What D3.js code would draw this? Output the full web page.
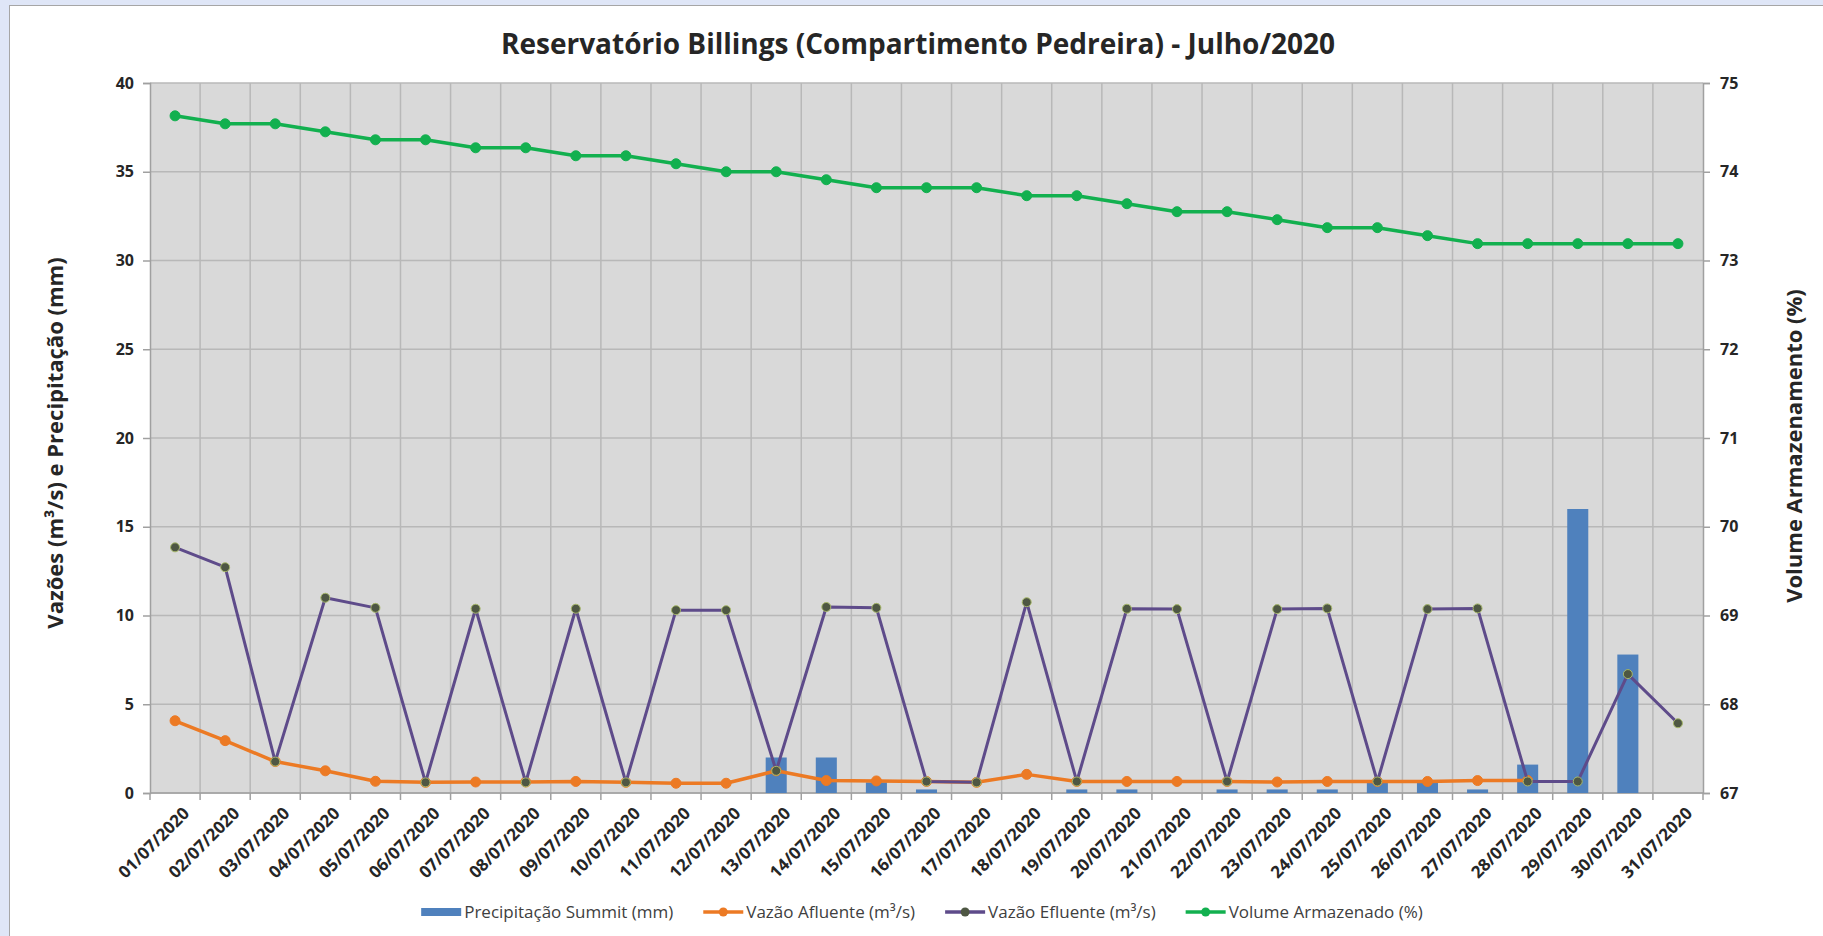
<!DOCTYPE html>
<html>
<head>
<meta charset="utf-8">
<script src="https://cdn.jsdelivr.net/npm/d3@7"></script>
<style>
  body { margin: 0; background: #dfe6f7; overflow: hidden; }
  svg text { font-family: "Open Sans", sans-serif; }
</style>
</head>
<body>
<div id="chart"></div>
<script>
var dias = ['01/07/2020','02/07/2020','03/07/2020','04/07/2020','05/07/2020','06/07/2020','07/07/2020',
  '08/07/2020','09/07/2020','10/07/2020','11/07/2020','12/07/2020','13/07/2020','14/07/2020','15/07/2020',
  '16/07/2020','17/07/2020','18/07/2020','19/07/2020','20/07/2020','21/07/2020','22/07/2020','23/07/2020',
  '24/07/2020','25/07/2020','26/07/2020','27/07/2020','28/07/2020','29/07/2020','30/07/2020','31/07/2020'];

var precipitacao = [0,0,0,0,0,0,0,0,0,0,0,0,2.0,2.0,0.6,0.2,0,0,0.2,0.2,0,0.2,0.2,0.2,0.6,0.6,0.2,1.6,16.0,7.8,0];
var afluente = [4.07,2.95,1.77,1.25,0.66,0.6,0.62,0.62,0.65,0.6,0.55,0.55,1.25,0.7,0.68,0.65,0.6,1.05,0.65,
  0.65,0.65,0.65,0.62,0.65,0.65,0.65,0.7,0.7,null,null,null];
var efluente = [13.84,12.72,1.77,11.0,10.43,0.6,10.38,0.6,10.38,0.6,10.3,10.3,1.25,10.48,10.43,0.65,0.6,10.75,
  0.65,10.38,10.36,0.65,10.36,10.4,0.65,10.36,10.4,0.65,0.65,6.7,3.93];
var volume = [74.63,74.54,74.54,74.45,74.36,74.36,74.27,74.27,74.18,74.18,74.09,74.0,74.0,73.91,73.82,73.82,
  73.82,73.73,73.73,73.64,73.55,73.55,73.46,73.37,73.37,73.28,73.19,73.19,73.19,73.19,73.19];

var ticksEsq = [0,5,10,15,20,25,30,35,40];
var ticksDir = [67,68,69,70,71,72,73,74,75];

var titulo = 'Reservatório Billings (Compartimento Pedreira) - Julho/2020';
var tituloEsq = 'Vazões (m³/s) e Precipitação (mm)';
var tituloDir = 'Volume Armazenamento (%)';
var nomes = ['Precipitação Summit (mm)','Vazão Afluente (m³/s)','Vazão Efluente (m³/s)','Volume Armazenado (%)'];

var W = 1823, H = 936;
var m = {l: 150, r: 1703, t: 83, b: 793};
var cor = {barra: '#4f81bd', afl: '#ec7a24', efl: '#5e4b8a', vol: '#12b04f', grade: '#b8b8b8', texto: '#262626'};

var svg = d3.select('#chart').append('svg').attr('width', W).attr('height', H);

// moldura branca
svg.append('rect').attr('x', 9.5).attr('y', 5.5).attr('width', W).attr('height', H)
  .attr('fill', '#fff').attr('stroke', '#a6a6a6');

var x = d3.scaleBand().domain(dias).range([m.l, m.r]);
var y = d3.scaleLinear().domain([0, 40]).range([m.b, m.t]);
var y2 = d3.scaleLinear().domain([67, 75]).range([m.b, m.t]);
var cx = function(d){ return x(d) + x.bandwidth()/2; };

// area do grafico
svg.append('rect').attr('x', m.l).attr('y', m.t).attr('width', m.r - m.l).attr('height', m.b - m.t)
  .attr('fill', '#d9d9d9');

var grade = svg.append('g').attr('stroke', cor.grade).attr('stroke-width', 1.5);
grade.selectAll('.h').data(ticksEsq).enter().append('line')
  .attr('x1', m.l).attr('x2', m.r).attr('y1', function(d){ return y(d); }).attr('y2', function(d){ return y(d); });
grade.selectAll('.v').data(dias.slice(1)).enter().append('line')
  .attr('x1', function(d){ return x(d); }).attr('x2', function(d){ return x(d); })
  .attr('y1', m.t).attr('y2', m.b);

// eixo esquerdo
var eixoEsq = svg.append('g').attr('transform', 'translate(' + m.l + ',0)')
  .call(d3.axisLeft(y).tickValues(ticksEsq).tickSize(7).tickPadding(9));
// eixo direito
var eixoDir = svg.append('g').attr('transform', 'translate(' + m.r + ',0)')
  .call(d3.axisRight(y2).tickValues(ticksDir).tickSize(7).tickPadding(10));
[eixoEsq, eixoDir].forEach(function(e){
  e.selectAll('path,line').attr('stroke', '#a0a0a0').attr('stroke-width', 1.5);
  e.selectAll('text').attr('fill', cor.texto).style('font-size', '16px').style('font-weight', 'bold');
});

// eixo x
svg.append('line').attr('x1', m.l).attr('x2', m.r).attr('y1', m.b).attr('y2', m.b)
  .attr('stroke', '#a0a0a0').attr('stroke-width', 1.5);
svg.selectAll('.tx').data(dias.concat([null])).enter().append('line')
  .attr('x1', function(d){ return d ? x(d) : m.r; }).attr('x2', function(d){ return d ? x(d) : m.r; })
  .attr('y1', m.b).attr('y2', m.b + 7).attr('stroke', '#a0a0a0').attr('stroke-width', 1.5);
svg.selectAll('.lx').data(dias).enter().append('text')
  .attr('transform', function(d){ return 'translate(' + (cx(d) + 7) + ',' + (m.b + 13) + ') rotate(-45)'; })
  .attr('text-anchor', 'end').attr('dy', '0.7em')
  .attr('fill', cor.texto).style('font-size', '17px').style('font-weight', 'bold')
  .text(function(d){ return d; });

// barras
var bw = x.bandwidth() * 0.42;
svg.selectAll('.bar').data(dias).enter().append('rect')
  .attr('x', function(d){ return cx(d) - bw/2; })
  .attr('y', function(d, i){ return y(precipitacao[i]); })
  .attr('width', bw)
  .attr('height', function(d, i){ return m.b - y(precipitacao[i]); })
  .attr('fill', cor.barra);

function serie(vals, escala, c, marcaFill, marcaStroke, r, lw){
  var pts = dias.map(function(d, i){ return [cx(d), vals[i]]; });
  var line = d3.line().defined(function(p){ return p[1] != null; })
    .x(function(p){ return p[0]; }).y(function(p){ return escala(p[1]); });
  svg.append('path').datum(pts).attr('d', line).attr('fill', 'none')
    .attr('stroke', c).attr('stroke-width', lw).attr('stroke-linejoin', 'round');
  svg.append('g').selectAll('circle').data(pts.filter(function(p){ return p[1] != null; })).enter()
    .append('circle').attr('cx', function(p){ return p[0]; }).attr('cy', function(p){ return escala(p[1]); })
    .attr('r', r).attr('fill', marcaFill).attr('stroke', marcaStroke).attr('stroke-width', 1);
}
serie(afluente, y, cor.afl, cor.afl, cor.afl, 5, 3.5);
serie(efluente, y, cor.efl, '#4e5743', '#a7b86a', 4.5, 3);
serie(volume, y2, cor.vol, cor.vol, cor.vol, 5, 3.5);

// titulos
svg.append('text').attr('x', 918).attr('y', 54).attr('text-anchor', 'middle')
  .attr('fill', cor.texto).style('font-size', '28px').style('font-weight', 'bold').text(titulo);
svg.append('text').attr('transform', 'translate(63,443) rotate(-90)').attr('text-anchor', 'middle')
  .attr('fill', cor.texto).style('font-size', '22px').style('font-weight', 'bold').text(tituloEsq);
svg.append('text').attr('transform', 'translate(1802,446) rotate(-90)').attr('text-anchor', 'middle')
  .attr('fill', cor.texto).style('font-size', '22px').style('font-weight', 'bold').text(tituloDir);

// legenda
var leg = svg.append('g');
var lx = 0, ly = 912;
nomes.forEach(function(n, i){
  var g = leg.append('g').attr('transform', 'translate(' + lx + ',0)');
  if (i === 0) {
    g.append('rect').attr('x', 0).attr('y', ly - 4).attr('width', 40).attr('height', 8).attr('fill', cor.barra);
  } else {
    var c = [null, cor.afl, cor.efl, cor.vol][i];
    var mf = [null, cor.afl, '#4e5743', cor.vol][i];
    g.append('line').attr('x1', 0).attr('x2', 40).attr('y1', ly).attr('y2', ly).attr('stroke', c).attr('stroke-width', 3.5);
    g.append('circle').attr('cx', 20).attr('cy', ly).attr('r', 4.5).attr('fill', mf);
  }
  var t = g.append('text').attr('x', 43).attr('y', ly).attr('dy', '0.35em')
    .attr('fill', '#404040').style('font-size', '17px').text(n);
  lx += 43 + t.node().getComputedTextLength() + 30;
});
var lw = lx - 30;
leg.attr('transform', 'translate(' + (922 - lw/2) + ',0)');
</script>
</body>
</html>
